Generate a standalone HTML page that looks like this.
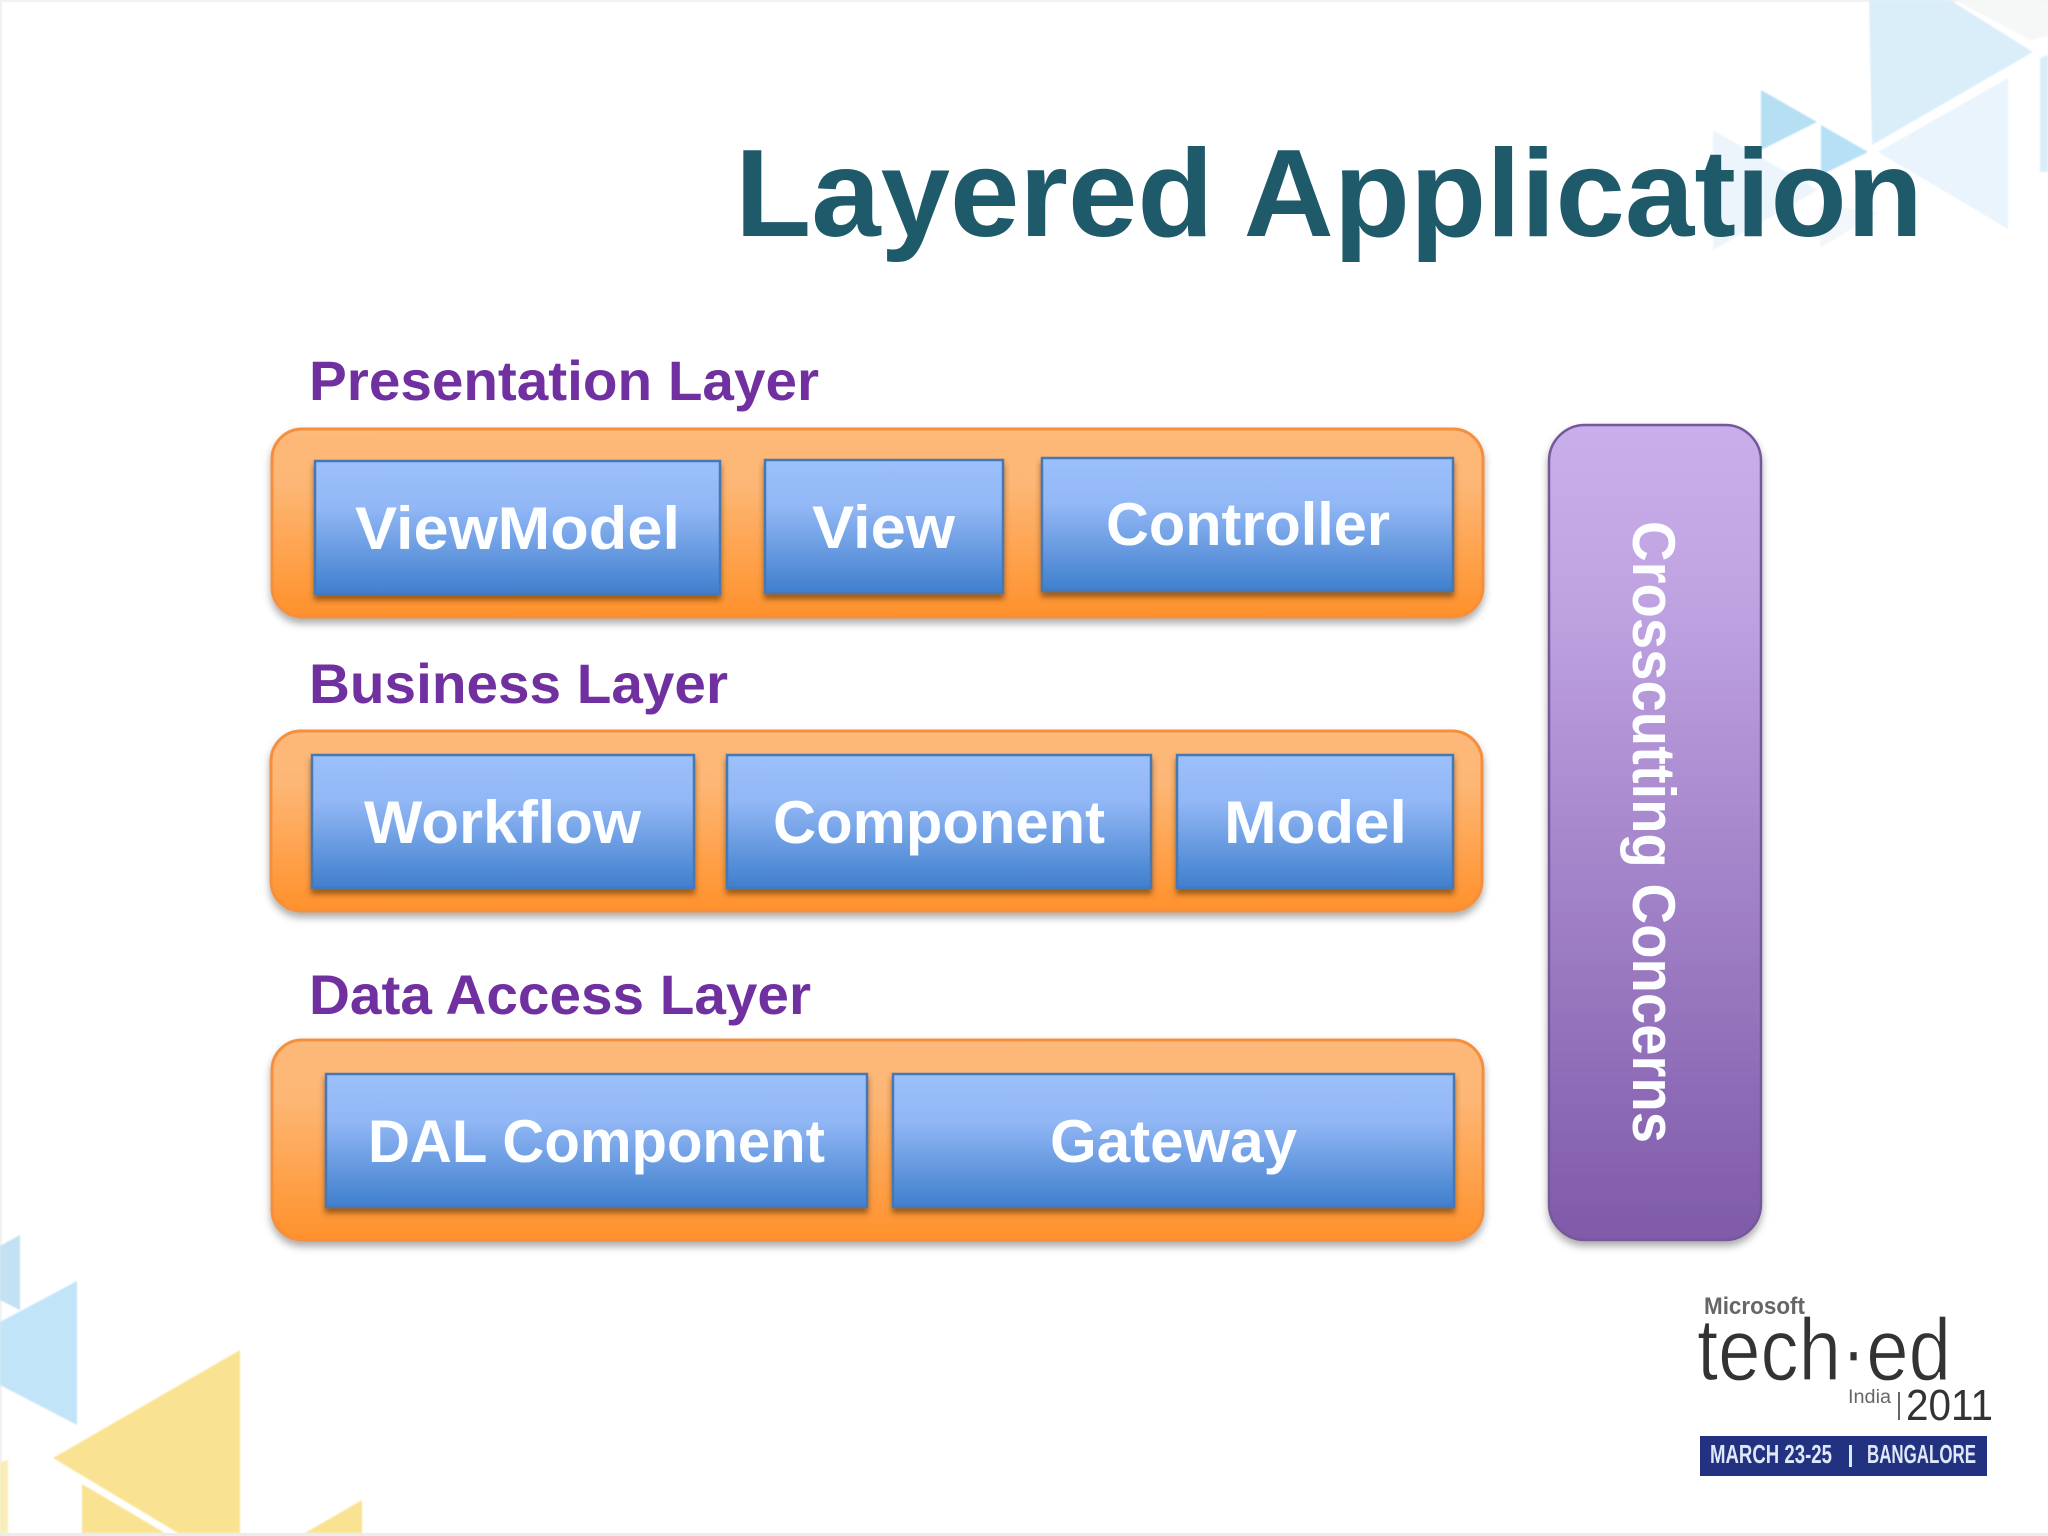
<!DOCTYPE html>
<html lang="en">
<head>
<meta charset="utf-8">
<title>Layered Application</title>
<style>
html,body{margin:0;padding:0;background:#fff;width:2048px;height:1536px;overflow:hidden}
svg{display:block}
text{font-family:"Liberation Sans",sans-serif}
.lbl{font-weight:700;font-size:56px;fill:#7030a0}
.bx{font-weight:700;font-size:60px;fill:#fdfeff}
</style>
</head>
<body>
<svg xmlns="http://www.w3.org/2000/svg" width="2048" height="1536" viewBox="0 0 2048 1536">
<defs>
<linearGradient id="po" x1="0" y1="0" x2="0" y2="1"><stop offset="0" stop-color="#fdb97a"/><stop offset=".3" stop-color="#fdb674"/><stop offset="1" stop-color="#ff912b"/></linearGradient>
<linearGradient id="bl" x1="0" y1="0" x2="0" y2="1"><stop offset="0" stop-color="#9bc0fb"/><stop offset=".35" stop-color="#92b7f5"/><stop offset="1" stop-color="#3f7fcd"/></linearGradient>
<linearGradient id="pu" x1="0" y1="0" x2="0" y2="1"><stop offset="0" stop-color="#c8aeea"/><stop offset=".2" stop-color="#c0a4e2"/><stop offset="1" stop-color="#7f5aa9"/></linearGradient>
<filter id="s1" x="-5%" y="-15%" width="110%" height="130%"><feDropShadow dx="0" dy="5" stdDeviation="4" flood-color="#000" flood-opacity=".33"/></filter>
<filter id="s2" x="-5%" y="-15%" width="110%" height="130%"><feDropShadow dx="0" dy="5" stdDeviation="3" flood-color="#5a3000" flood-opacity=".6"/></filter>
<filter id="b1" x="-10%" y="-10%" width="120%" height="120%"><feGaussianBlur stdDeviation=".8"/></filter>
</defs>

<rect width="2048" height="1536" fill="#fff"/>
<rect x="0" y="0" width="2048" height="2" fill="#f2f2f2"/>
<rect x="0" y="0" width="2" height="1536" fill="#f2f2f2"/>
<rect x="0" y="1533" width="2048" height="3" fill="#ececec"/>

<!-- top-right decoration -->
<g filter="url(#b1)">
<polygon points="1869,0 1950,0 2033,52 1872,145" fill="#daeefa"/>
<polygon points="2008,78 2008,229 1878,152" fill="#eaf4fc"/>
<polygon points="2040,58 2048,55 2048,172 2040,172" fill="#daeefa"/>
<polygon points="1761,90 1761,150 1817,122" fill="#b6dff3"/>
<polygon points="1821,125 1821,175 1868,152" fill="#b5e0f6"/>
<polygon points="1713,130 1713,250 1818,190" fill="#edf5fc"/>
<polygon points="1820,248 1820,205 1880,212" fill="#f2f7fc"/>
<polygon points="1955,0 2048,0 2048,36 2030,40" fill="#f6f8f8"/>
</g>

<!-- bottom-left decoration -->
<g filter="url(#b1)">
<polygon points="0,1246 20,1235 20,1310 0,1300" fill="#c2e1f2"/>
<polygon points="77,1281 77,1425 0,1385 0,1322" fill="#c1e4f9"/>
<polygon points="240,1350 240,1533 178,1533 53,1458" fill="#f9e392"/>
<polygon points="82,1484 165,1533 82,1533" fill="#f9e392"/>
<polygon points="362,1500 362,1533 305,1533" fill="#f9e392"/>
<polygon points="0,1462 8,1460 8,1533 0,1533" fill="#f9eeb8"/>
</g>

<!-- title -->
<text x="735" y="236" font-size="124" font-weight="700" fill="#1f5a6b" textLength="1188" lengthAdjust="spacingAndGlyphs">Layered Application</text>

<!-- section labels -->
<text class="lbl" x="309" y="400" textLength="510" lengthAdjust="spacingAndGlyphs">Presentation Layer</text>
<text class="lbl" x="309" y="703" textLength="419" lengthAdjust="spacingAndGlyphs">Business Layer</text>
<text class="lbl" x="309" y="1014" textLength="502" lengthAdjust="spacingAndGlyphs">Data Access Layer</text>

<!-- panels -->
<g stroke="#f58f3c" stroke-width="3" fill="url(#po)" filter="url(#s1)">
<rect x="272" y="429" width="1211" height="188" rx="30"/>
<rect x="271" y="731" width="1211" height="180" rx="30"/>
<rect x="272" y="1040" width="1211" height="200" rx="30"/>
</g>

<!-- boxes -->
<g stroke="#4678b4" stroke-width="2.5" fill="url(#bl)" filter="url(#s2)">
<rect x="315" y="461" width="405" height="133"/>
<rect x="765" y="460" width="238" height="133"/>
<rect x="1042" y="458" width="411" height="133"/>
<rect x="312" y="755" width="382" height="133"/>
<rect x="727" y="755" width="424" height="133"/>
<rect x="1177" y="755" width="276" height="133"/>
<rect x="326" y="1074" width="541" height="133"/>
<rect x="893" y="1074" width="561" height="133"/>
</g>

<!-- box labels -->
<text class="bx" x="355" y="549" textLength="325" lengthAdjust="spacingAndGlyphs">ViewModel</text>
<text class="bx" x="812" y="548" textLength="143" lengthAdjust="spacingAndGlyphs">View</text>
<text class="bx" x="1106" y="545" textLength="284" lengthAdjust="spacingAndGlyphs">Controller</text>
<text class="bx" x="364" y="843" textLength="277" lengthAdjust="spacingAndGlyphs">Workflow</text>
<text class="bx" x="773" y="843" textLength="332" lengthAdjust="spacingAndGlyphs">Component</text>
<text class="bx" x="1224" y="843" textLength="183" lengthAdjust="spacingAndGlyphs">Model</text>
<text class="bx" x="368" y="1162" textLength="457" lengthAdjust="spacingAndGlyphs">DAL Component</text>
<text class="bx" x="1050" y="1162" textLength="247" lengthAdjust="spacingAndGlyphs">Gateway</text>

<!-- crosscutting -->
<rect x="1549" y="425" width="212" height="815" rx="36" fill="url(#pu)" stroke="#74589a" stroke-width="2.5" filter="url(#s1)"/>
<text class="bx" transform="translate(1633,521) rotate(90)" x="0" y="0" textLength="622" lengthAdjust="spacingAndGlyphs">Crosscutting Concerns</text>

<!-- logo -->
<text x="1704" y="1314" font-size="24" font-weight="700" fill="#666" textLength="101" lengthAdjust="spacingAndGlyphs">Microsoft</text>
<text x="1697" y="1380" font-size="88" fill="#333" stroke="#fff" stroke-width="1.2" paint-order="fill" textLength="254" lengthAdjust="spacingAndGlyphs">tech·ed</text>
<text x="1848" y="1403" font-size="19" fill="#666" textLength="43" lengthAdjust="spacingAndGlyphs">India</text>
<rect x="1898" y="1392" width="2" height="28" fill="#666"/>
<text x="1906" y="1420" font-size="44" fill="#333" textLength="87" lengthAdjust="spacingAndGlyphs">2011</text>
<rect x="1700" y="1436" width="287" height="40" fill="#223280"/>
<text x="1710" y="1463" font-size="26" font-weight="700" fill="#dfe8f8" textLength="122" lengthAdjust="spacingAndGlyphs">MARCH 23-25</text>
<rect x="1849" y="1445" width="3" height="22" fill="#dfe8f8"/>
<text x="1867" y="1463" font-size="26" font-weight="700" fill="#dfe8f8" textLength="109" lengthAdjust="spacingAndGlyphs">BANGALORE</text>
</svg>
</body>
</html>
